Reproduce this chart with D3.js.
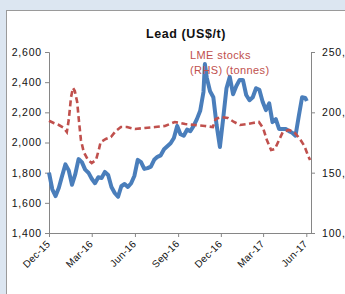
<!DOCTYPE html>
<html>
<head>
<meta charset="utf-8">
<script src="https://cdn.jsdelivr.net/npm/d3@7"></script>
<style>
  html, body { margin: 0; padding: 0; background: #dce6f1; }
  svg { display: block; font-family: Arial, 'Liberation Sans', sans-serif; }
</style>
</head>
<body>
<svg id="chart" width="345" height="294"></svg>
<script>
// lead price, US$/t (weekly readings)
const priceDates = [
  '2015-12-01', '2015-12-08', '2015-12-15', '2015-12-22', '2015-12-29',
  '2016-01-05', '2016-01-12', '2016-01-19', '2016-01-26', '2016-02-02',
  '2016-02-09', '2016-02-16', '2016-02-23', '2016-03-01', '2016-03-08',
  '2016-03-15', '2016-03-22', '2016-03-29', '2016-04-05', '2016-04-12',
  '2016-04-19', '2016-04-26', '2016-05-03', '2016-05-10', '2016-05-17',
  '2016-05-24', '2016-05-31', '2016-06-07', '2016-06-14', '2016-06-21',
  '2016-06-28', '2016-07-05', '2016-07-12', '2016-07-19', '2016-07-26',
  '2016-08-02', '2016-08-09', '2016-08-16', '2016-08-23', '2016-08-30',
  '2016-09-06', '2016-09-13', '2016-09-20', '2016-09-27', '2016-10-04',
  '2016-10-11', '2016-10-18', '2016-10-25', '2016-10-28', '2016-11-01',
  '2016-11-08', '2016-11-15', '2016-11-22', '2016-11-29', '2016-12-06',
  '2016-12-13', '2016-12-20', '2016-12-27', '2017-01-03', '2017-01-10',
  '2017-01-17', '2017-01-24', '2017-01-31', '2017-02-07', '2017-02-14',
  '2017-02-21', '2017-02-28', '2017-03-07', '2017-03-14', '2017-03-21',
  '2017-03-28', '2017-04-04', '2017-04-11', '2017-04-18', '2017-04-25',
  '2017-05-02', '2017-05-09', '2017-05-16', '2017-05-23', '2017-05-30',
  '2017-06-02'
]
const priceValues = [
  1800, 1690, 1645, 1700, 1780,
  1855, 1815, 1720, 1790, 1890,
  1870, 1820, 1800, 1760, 1730,
  1770, 1765, 1805, 1785, 1705,
  1665, 1640, 1710, 1725, 1705,
  1730, 1780, 1885, 1870, 1825,
  1830, 1840, 1885, 1905, 1915,
  1955, 1975, 1995, 2030, 2110,
  2055, 2045, 2085, 2075, 2110,
  2155, 2210, 2335, 2520, 2430,
  2340, 2300, 2115, 1970, 2160,
  2360, 2435, 2320, 2375, 2415,
  2415, 2315, 2280, 2300, 2360,
  2350, 2270, 2215, 2260, 2135,
  2155, 2090, 2090, 2090, 2075,
  2065, 2045, 2175, 2300, 2295,
  2275
]

// LME stocks, tonnes
const stockDates = [
  '2015-12-01', '2015-12-12', '2015-12-22', '2016-01-02', '2016-01-08',
  '2016-01-12', '2016-01-17', '2016-01-21', '2016-01-25', '2016-01-30',
  '2016-02-03', '2016-02-07', '2016-02-13', '2016-02-22', '2016-03-01',
  '2016-03-10', '2016-03-16', '2016-03-20', '2016-03-31', '2016-04-11',
  '2016-04-21', '2016-05-02', '2016-05-15', '2016-06-01', '2016-06-22',
  '2016-07-14', '2016-08-04', '2016-08-25', '2016-09-16', '2016-10-07',
  '2016-10-28', '2016-11-14', '2016-11-20', '2016-12-03', '2016-12-16',
  '2016-12-29', '2017-01-11', '2017-01-26', '2017-02-07', '2017-02-20',
  '2017-03-01', '2017-03-09', '2017-03-18', '2017-03-26', '2017-04-04',
  '2017-04-12', '2017-04-25', '2017-05-06', '2017-05-17', '2017-05-28',
  '2017-06-05', '2017-06-09'
]
const stockValues = [
  193000, 191000, 189500, 187000, 183700,
  193600, 212700, 220200, 217700, 208600,
  192000, 177100, 167100, 160500, 158000,
  160500, 168800, 175400, 177900, 179600,
  184500, 187800, 187800, 186200, 187000,
  187800, 188700, 192000, 190300, 189500,
  188700, 187800, 194500, 196100, 195300,
  192000, 189500, 190300, 191200, 192000,
  187000, 177100, 168800, 169600, 177100,
  183700, 185400, 183700, 178700, 172100,
  163800, 160500
]

const priceTicks = [1400, 1600, 1800, 2000, 2200, 2400, 2600]
const stockTicks = [100000, 150000, 200000, 250000]
const monthTicks = ['2015-12-01', '2016-03-01', '2016-06-01', '2016-09-01',
  '2016-12-01', '2017-03-01', '2017-06-01']

const parse = d3.timeParse('%Y-%m-%d')
const fmt = d3.format(',')

const plot = { left: 49, right: 311, top: 52, bottom: 233 }

const svg = d3.select('#chart')

// white panel with grey frame
svg.append('rect')
    .attr('x', 6.5)
    .attr('y', 10.5)
    .attr('width', 400)
    .attr('height', 300)
    .attr('fill', '#fff')
    .attr('stroke', '#9a9a9a')

const x = d3.scaleTime()
    .domain([parse('2015-12-01'), parse('2017-06-11')])
    .range([plot.left, plot.right])
const y = d3.scaleLinear().domain([1400, 2600]).range([plot.bottom, plot.top])
const y2 = d3.scaleLinear().domain([100000, 250000]).range([plot.bottom, plot.top])

const xAxis = d3.axisBottom(x)
    .tickValues(monthTicks.map(parse))
    .tickFormat(d3.timeFormat('%b-%y'))
    .tickSizeInner(4)
    .tickSizeOuter(0)
const yAxis = d3.axisLeft(y).tickValues(priceTicks).tickFormat(fmt).tickSize(4)
const y2Axis = d3.axisRight(y2).tickValues(stockTicks).tickFormat(fmt).tickSize(4)

const styleAxis = g => {
  g.selectAll('path, line').attr('stroke', '#868686')
  g.selectAll('text')
      .attr('fill', '#111')
      .style('font-size', '10.5px')
      .style('letter-spacing', '0.8px')
}

svg.append('g')
    .attr('transform', `translate(0,${plot.bottom})`)
    .call(xAxis)
    .call(styleAxis)
    .call(g => g.select('.domain').attr('d', `M${plot.left - 4},0.5H${plot.right + 4}`))
    .selectAll('text')
    .attr('text-anchor', 'end')
    .attr('transform', 'translate(-1,9) rotate(-45)')
    .attr('dy', '0.35em')
    .attr('x', 0)
    .attr('y', 0)
    .style('font-size', '10px')
    .style('letter-spacing', '0.3px')

svg.append('g')
    .attr('transform', `translate(${plot.left},0)`)
    .call(yAxis)
    .call(styleAxis)
    .call(g => g.selectAll('text').attr('x', -7))

// right-hand labels run past the frame edge, as in the source
svg.append('g')
    .attr('transform', `translate(${plot.right},0)`)
    .call(y2Axis)
    .call(styleAxis)
    .call(g => g.selectAll('text').attr('x', 11))

const priceData = priceDates.map((d, i) => ({ date: parse(d), value: priceValues[i] }))
const stockData = stockDates.map((d, i) => ({ date: parse(d), value: stockValues[i] }))

svg.append('path')
    .datum(priceData)
    .attr('fill', 'none')
    .attr('stroke', '#4a7ebb')
    .attr('stroke-width', 4)
    .attr('stroke-linejoin', 'round')
    .attr('d', d3.line().x(d => x(d.date)).y(d => y(d.value)))

svg.append('path')
    .datum(stockData)
    .attr('fill', 'none')
    .attr('stroke', '#c0504d')
    .attr('stroke-width', 2.6)
    .attr('stroke-dasharray', '6,3.5')
    .attr('d', d3.line().x(d => x(d.date)).y(d => y2(d.value)))

svg.append('text')
    .attr('x', 186)
    .attr('y', 38)
    .attr('text-anchor', 'middle')
    .style('font-size', '12.5px')
    .style('font-weight', 'bold')
    .style('letter-spacing', '0.6px')
    .attr('fill', '#111')
    .text('Lead (US$/t)')

const note = svg.append('text')
    .attr('fill', '#c0504d')
    .style('font-size', '11px')
    .style('letter-spacing', '0.4px')
note.append('tspan').attr('x', 190).attr('y', 59).text('LME stocks')
note.append('tspan').attr('x', 190).attr('y', 74).text('(RHS) (tonnes)')
</script>
</body>
</html>
